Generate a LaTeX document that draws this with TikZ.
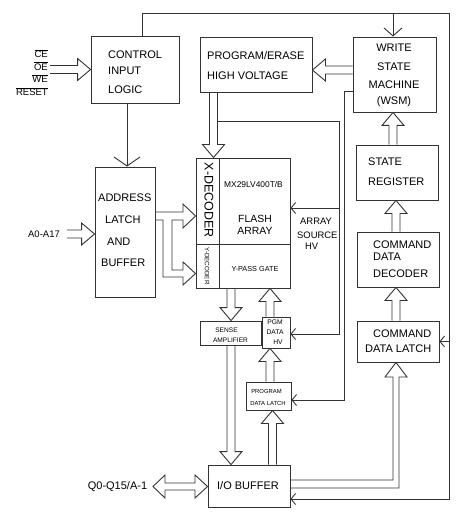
\documentclass[tikz,border=0pt]{standalone}
\usepackage{fontspec}
\setmainfont{Liberation Sans}
\usetikzlibrary{arrows.meta,calc}

\newcommand{\ovl}[1]{$\overline{\hbox{#1}}$}
% hollow bus arrow from tail #1 to tip #2
\newcommand{\bus}[2]{%
  \coordinate (bt) at #1; \coordinate (bh) at #2;
  \coordinate (bb) at ($(bh)!13pt!(bt)$);
  \draw[bus] ($(bt)!4pt!90:(bh)$) -- ($(bb)!4pt!90:(bh)$) -- ($(bb)!11pt!90:(bh)$)
    -- (bh) -- ($(bb)!11pt!-90:(bh)$) -- ($(bb)!4pt!-90:(bh)$) -- ($(bt)!4pt!-90:(bh)$);}

\begin{document}
\begin{tikzpicture}[x=1pt,y=-1pt,
  line/.style={draw=black!80,line width=0.9pt},
  blk/.style={line,inner sep=0pt},
  bus/.style={line,line join=miter},
  lbl/.style={inner sep=0pt,font=\fontsize{11}{13}\selectfont},
  bigarr/.style={-{Straight Barb[length=9pt,width=26pt]}},
  midarr/.style={-{Straight Barb[length=8pt,width=18pt]}},
  smallarr/.style={-{Straight Barb[length=4.5pt,width=11pt]}}]
  \useasboundingbox (0,0) rectangle (468,513);

  % blocks
  \node[blk,minimum width=88pt,minimum height=67pt] (ctl) at (135,69.5) {};
  \node[blk,minimum width=112pt,minimum height=55pt] (pe) at (256,64.5) {};
  \node[blk,minimum width=83pt,minimum height=75pt] (wsm) at (394.5,74.5) {};
  \node[blk,minimum width=60pt,minimum height=130pt] (addr) at (125,232) {};
  \node[blk,minimum width=23pt,minimum height=86pt] (xdec) at (207.5,201) {};
  \node[blk,minimum width=23pt,minimum height=44pt] (ydec) at (207.5,266) {};
  \node[blk,minimum width=71pt,minimum height=86pt] (farr) at (254.5,201) {};
  \node[blk,minimum width=71pt,minimum height=44pt] (ypass) at (254.5,266) {};
  \node[blk,minimum width=82pt,minimum height=55pt] (sr) at (397,172.5) {};
  \node[blk,minimum width=82pt,minimum height=55pt] (cdd) at (398,259.5) {};
  \node[blk,minimum width=82pt,minimum height=41pt] (cdl) at (398,341.5) {};
  \node[blk,minimum width=61pt,minimum height=24pt] (sense) at (230.5,333) {};
  \node[blk,minimum width=28pt,minimum height=31pt] (pgm) at (276,332.5) {};
  \node[blk,minimum width=45pt,minimum height=28pt] (pdl) at (268.5,396) {};
  \node[blk,minimum width=82pt,minimum height=42pt] (io) at (249,486) {};

  % texts
  \node[lbl,anchor=west] (tctl1) at (108,54.5) {CONTROL};
  \node[lbl,anchor=west] (tctl2) at (108,70.5) {INPUT};
  \node[lbl,anchor=west] (tctl3) at (108,89.5) {LOGIC};
  \node[lbl,anchor=west] (tpe1) at (207,55.5) {PROGRAM/ERASE};
  \node[lbl,anchor=west] (tpe2) at (207,75.5) {HIGH VOLTAGE};
  \node[lbl] (twsm1) at (394,48) {WRITE};
  \node[lbl] (twsm2) at (394,67) {STATE};
  \node[lbl] (twsm3) at (394,85) {MACHINE};
  \node[lbl] (twsm4) at (394,102) {(WSM)};
  \node[lbl,anchor=west] (tad1) at (98,198) {ADDRESS};
  \node[lbl,anchor=west] (tad2) at (105,220) {LATCH};
  \node[lbl,anchor=west] (tad3) at (107,242) {AND};
  \node[lbl,anchor=west] (tad4) at (101,262.5) {BUFFER};
  \node[lbl,anchor=west] (tsr1) at (368,162) {STATE};
  \node[lbl,anchor=west] (tsr2) at (368,182) {REGISTER};
  \node[lbl,anchor=west] (tcdd1) at (373,245) {COMMAND};
  \node[lbl,anchor=west] (tcdd2) at (373,257) {DATA};
  \node[lbl,anchor=west] (tcdd3) at (373,274) {DECODER};
  \node[lbl,anchor=west] (tcdl1) at (373,333.5) {COMMAND};
  \node[lbl,anchor=west] (tcdl2) at (365,348.5) {DATA LATCH};
  \node[lbl] (tio) at (248,486) {I/O BUFFER};
  \node[lbl] (tq) at (117.5,487) {Q0-Q15/A-1};
  \node[inner sep=0pt,font=\fontsize{9.5}{11}\selectfont] (ta) at (44,234) {A0-A17};
  \node[inner sep=0pt,rotate=-90,font=\fontsize{12.5}{14}\selectfont] (txd) at (209,200.5) {X-DECODER};
  \node[inner sep=0pt,rotate=-90,font=\fontsize{6.3}{7}\selectfont] (tyd) at (207,266) {Y-DECODER};
  \node[inner sep=0pt,font=\fontsize{8.4}{10}\selectfont] (tmx) at (253.5,184.5) {MX29LV400T/B};
  \node[inner sep=0pt,font=\fontsize{10.4}{12}\selectfont] (tfl1) at (255,218.5) {FLASH};
  \node[inner sep=0pt,font=\fontsize{10.4}{12}\selectfont] (tfl2) at (255,230.5) {ARRAY};
  \node[inner sep=0pt,font=\fontsize{7.3}{9}\selectfont] (typ) at (255,268.5) {Y-PASS GATE};
  \node[inner sep=0pt,anchor=west,font=\fontsize{9.4}{11}\selectfont] (tas1) at (300,221.5) {ARRAY};
  \node[inner sep=0pt,anchor=west,font=\fontsize{9.4}{11}\selectfont] (tas2) at (297,235) {SOURCE};
  \node[inner sep=0pt,anchor=west,font=\fontsize{9.4}{11}\selectfont] (tas3) at (305,246.5) {HV};
  \node[inner sep=0pt,font=\fontsize{6.6}{8}\selectfont] (tsa1) at (226.5,330) {SENSE};
  \node[inner sep=0pt,font=\fontsize{6.6}{8}\selectfont] (tsa2) at (230.5,340) {AMPLIFIER};
  \node[inner sep=0pt,font=\fontsize{6.75}{8}\selectfont] (tpg1) at (275,322) {PGM};
  \node[inner sep=0pt,font=\fontsize{6.75}{8}\selectfont] (tpg2) at (275,332) {DATA};
  \node[inner sep=0pt,font=\fontsize{6.75}{8}\selectfont] (tpg3) at (278,342) {HV};
  \node[inner sep=0pt,font=\fontsize{5.9}{7}\selectfont] (tpd1) at (266.5,391) {PROGRAM};
  \node[inner sep=0pt,font=\fontsize{5.9}{7}\selectfont] (tpd2) at (268,403.5) {DATA LATCH};
  \node[anchor=base east,inner sep=0pt,font=\fontsize{9.5}{11}\selectfont] (sce) at (48,58) {\ovl{CE}};
  \node[anchor=base east,inner sep=0pt,font=\fontsize{9.5}{11}\selectfont] (soe) at (48,70.5) {\ovl{OE}};
  \node[anchor=base east,inner sep=0pt,font=\fontsize{9.5}{11}\selectfont] (swe) at (48,83) {\ovl{WE}};
  \node[anchor=base east,inner sep=0pt,font=\fontsize{9.5}{11}\selectfont] (srs) at (48,96) {\ovl{RESET}};

  % thin control lines
  \coordinate (tl) at (142,13);
  \coordinate (tr) at (449,13);
  \coordinate (br) at (449,499);
  \draw[line,smallarr] (142,0 |- ctl.north) -- (tl) -- (tr) -- (br) -- (io.east |- br);
  \draw[line,midarr] (tl -| 393,0) -- (393,0 |- wsm.north);
  \draw[line,smallarr] (br |- cdl.east) -- (cdl.east);
  \draw[line,bigarr] (127,0 |- ctl.south) -- (127,0 |- addr.north);
  \draw[line,smallarr] (wsm.west |- 0,91) -- (344,91) -- (344,400) -- (pdl.east |- 0,400);
  \draw[line,smallarr] (217,121) -- (339,121) -- (339,334) -- (pgm.east |- 0,334);
  \draw[line,smallarr] (339,208) -- (farr.east |- 0,208);

  % bus arrows
  \bus{(50,0 |- ctl.west)}{(ctl.west)}
  \bus{(67,234)}{(addr.west |- 0,234)}
  \bus{(213.5,0 |- pe.south)}{(213.5,0 |- xdec.north)}
  \bus{(wsm.west |- 0,70)}{(pe.east |- 0,70)}
  \bus{(393,0 |- sr.north)}{(393,0 |- wsm.south)}
  \bus{(396,0 |- cdd.north)}{(396,0 |- sr.south)}
  \bus{(396,0 |- cdl.north)}{(396,0 |- cdd.south)}
  \bus{(231,0 |- ypass.south)}{(231,0 |- sense.north)}
  \bus{(231,0 |- sense.south)}{(231,0 |- io.north)}
  \bus{(270,0 |- pgm.north)}{(270,0 |- ypass.south)}
  \bus{(270,0 |- pdl.north)}{(270,0 |- pgm.south)}
  \bus{(272.5,0 |- io.north)}{(272.5,0 |- pdl.south)}
  \draw[bus] (addr.east |- 0,212) -- (183,212) -- (183,204) -- (xdec.west |- 0,216)
    -- (183,228) -- (183,220) -- (172,220) -- (172,270) -- (183,270) -- (183,262)
    -- (ydec.west |- 0,273.5) -- (183,285) -- (183,277) -- (163,277) -- (163,220)
    -- (addr.east |- 0,220);
  \draw[bus] (io.east |- 0,480) -- (393,480) -- (393,377) -- (385,377)
    -- (396,0 |- cdl.south) -- (407,377) -- (399,377) -- (399,488) -- (io.east |- 0,488);
  \draw[bus] (153,486.5) -- (165,475) -- (165,483) -- (195,483) -- (195,475)
    -- (io.west |- 0,486.5) -- (195,498) -- (195,490) -- (165,490) -- (165,498) -- cycle;

\end{tikzpicture}
\end{document}
